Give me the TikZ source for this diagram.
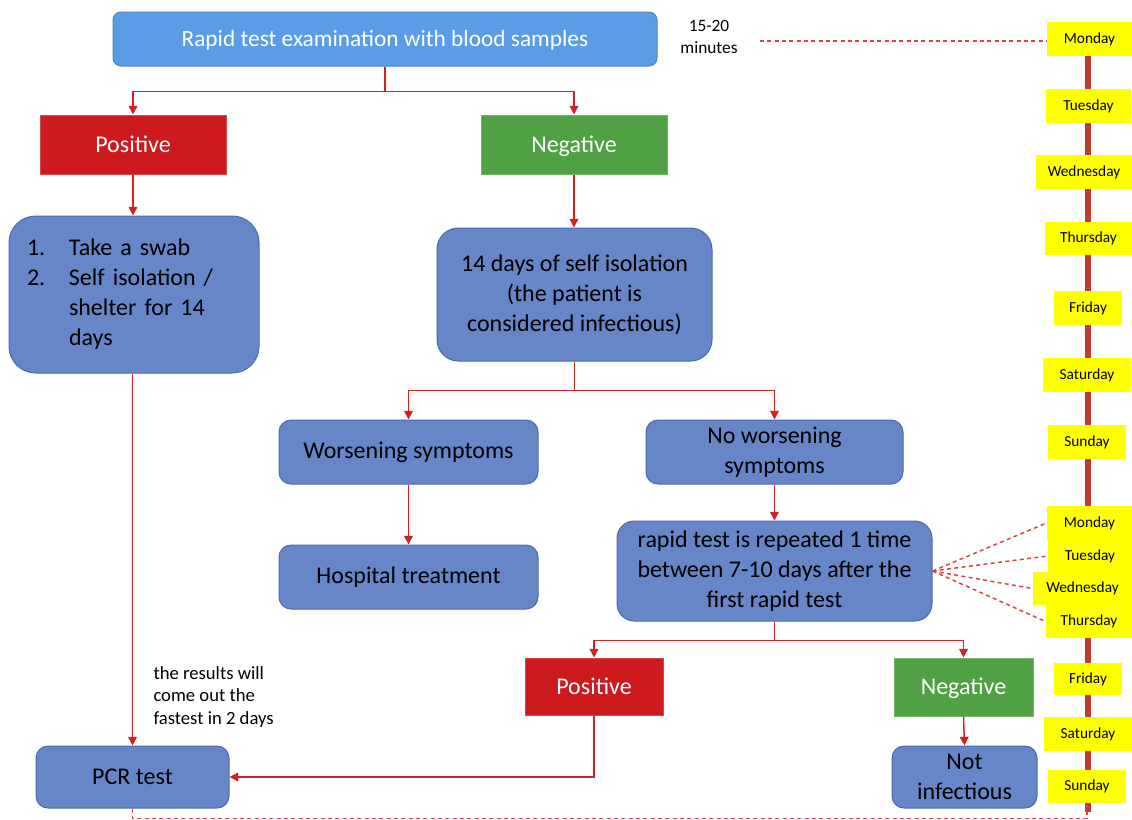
\documentclass[tikz,border=0pt]{standalone}
\usepackage{fontspec}
\setmainfont{Carlito}
\usetikzlibrary{arrows.meta}

\definecolor{topblue}{RGB}{91,156,230}
\definecolor{boxblue}{RGB}{102,134,200}
\definecolor{boxedge}{RGB}{74,106,176}
\definecolor{posred}{RGB}{204,26,31}
\definecolor{neggreen}{RGB}{80,160,68}
\definecolor{linkred}{RGB}{212,32,32}
\definecolor{dashred}{RGB}{222,64,64}
\definecolor{dayyellow}{RGB}{255,255,0}
\definecolor{timebrown}{RGB}{192,60,44}

\tikzset{every picture/.style={line width=0.75pt}}
\tikzset{
  sz/.style 2 args={minimum width=#1*0.75pt,minimum height=#2*0.75pt},
  flowbox/.style={draw=boxedge,fill=boxblue,inner sep=0pt,align=center,rounded corners=9pt,font=\fontsize{18}{22.5}\selectfont},
  resultbox/.style={fill=#1,draw=#1!80!white,inner sep=0pt,text=white,text height=11.5pt,text depth=0pt,font=\fontsize{18}{22.5}\selectfont},
  daybox/.style={fill=dayyellow,inner sep=0pt,font=\fontsize{11.5}{13}\selectfont},
  link/.style={draw=linkred,line width=1.1pt,-{Triangle[length=6.5pt,width=6.5pt]}},
  daydash/.style={draw=dashred,line width=1.1pt,dash pattern={on 3pt off 2.5pt}},
  timeline/.style={draw=timebrown,line width=3.8pt}
}

\begin{document}
\begin{tikzpicture}[x=0.75pt,y=0.75pt,yscale=-1,xscale=1]
    \useasboundingbox (0,0) rectangle (1132,819);

    %Shape: Timeline
    \coordinate (tltop) at (1088,50);
    \coordinate (tlbot) at (1088,812);
    \draw [timeline] (tltop) -- (tlbot);

    %Shape: Top box
    \node [fill=topblue,draw=topblue!85!black,rounded corners=6pt,inner sep=0pt,sz={544}{54},text=white,text height=11.5pt,text depth=0pt,font=\fontsize{17.5}{21}\selectfont] (rapid) at (385,39) {Rapid test examination with blood samples};
    % Text Node
    \node [align=center,font=\fontsize{13}{16.5}\selectfont] (mins) at (709,37) {15-20\\minutes};
    \coordinate (minsend) at (760,41);

    %Shape: Result boxes
    \node [resultbox=posred,sz={186}{59}] (pos1) at (133,144.5) {Positive};
    \node [resultbox=neggreen,sz={186}{59}] (neg1) at (574,144.5) {Negative};
    \node [resultbox=posred,sz={138}{57}] (pos2) at (594,686.5) {Positive};
    \node [resultbox=neggreen,sz={139}{58}] (neg2) at (963.5,687) {Negative};

    %Shape: Flow boxes
    \node [flowbox,rounded corners=20pt,sz={250}{157},text width=160.5pt,align=left] (list) at (134,294.5) {%
      \begin{tabular}{@{}p{31.5pt}@{}l@{}}
        1. & Take a swab\\
        2. & Self isolation /\\
           & shelter for 14\\
           & days
      \end{tabular}};
    \node [flowbox,rounded corners=16pt,sz={275}{133}] (iso) at (574.5,294.5) {14 days of self isolation\\(the patient is\\considered infectious)};
    \node [flowbox,sz={259}{64}] (worse) at (408.5,452) {Worsening symptoms};
    \node [flowbox,sz={257}{64}] (noworse) at (774.5,452) {No worsening\\symptoms};
    \node [flowbox,sz={259}{64}] (hosp) at (408.5,577) {Hospital treatment};
    \node [flowbox,rounded corners=13pt,sz={315}{100}] (repeat) at (774.5,571) {rapid test is repeated 1 time\\between 7-10 days after the\\first rapid test};
    \node [flowbox,sz={193}{62}] (pcr) at (132.5,777) {PCR test};
    \node [flowbox,sz={145}{62}] (notinf) at (964.5,777) {Not\\infectious};

    % Text Node
    \node [anchor=west,inner sep=0pt,align=left,font=\fontsize{14}{16.9}\selectfont] (note) at (153,697) {the results will\\come out the\\fastest in 2 days};

    %Shape: Days
    \node [daybox,sz={85}{34}] (mon1) at (1089.5,39) {Monday};
    \node [daybox,sz={85}{34}] (tue1) at (1088.5,106) {Tuesday};
    \node [daybox,sz={96}{34}] (wed1) at (1084,172) {Wednesday};
    \node [daybox,sz={87}{33}] (thu1) at (1088.5,238.5) {Thursday};
    \node [daybox,sz={68}{34}] (fri1) at (1088,308) {Friday};
    \node [daybox,sz={88}{34}] (sat1) at (1087,375) {Saturday};
    \node [daybox,sz={78}{34}] (sun1) at (1087,442) {Sunday};
    \node [daybox,sz={85}{34}] (mon2) at (1089.5,523) {Monday};
    \node [daybox,sz={84}{32}] (tue2) at (1090,556) {Tuesday};
    \node [daybox,sz={99}{33}] (wed2) at (1082.5,588.5) {Wednesday};
    \node [daybox,sz={86}{33}] (thu2) at (1089,621.5) {Thursday};
    \node [daybox,sz={68}{32}] (fri2) at (1088,679) {Friday};
    \node [daybox,sz={88}{34}] (sat2) at (1088,734) {Saturday};
    \node [daybox,sz={78}{33}] (sun2) at (1087,786.5) {Sunday};

    %Straight Lines
    \draw [link] (rapid.south) -- ++(0,25) -| (pos1.north);
    \draw [link] (rapid.south) -- ++(0,25) -| (neg1.north);
    \draw [link] (pos1.south) -- (pos1.south |- list.north);
    \draw [link] (neg1.south) -- (neg1.south |- iso.north);
    \draw [link] (pcr.north |- list.south) -- (pcr.north);
    \draw [link] (iso.south) -- ++(0,29) -| (worse.north);
    \draw [link] (iso.south) -- ++(0,29) -| (noworse.north);
    \draw [link] (worse.south) -- (hosp.north);
    \draw [link] (noworse.south) -- (repeat.north);
    \draw [link] (repeat.south) -- ++(0,19) -| (pos2.north);
    \draw [link] (repeat.south) -- ++(0,19) -| (neg2.north);
    \draw [link] (neg2.south) -- (notinf.north);
    \draw [link] (pos2.south) |- (pcr.east);

    %Dashed Lines
    \draw [daydash] (minsend) -- (minsend -| mon1.west);
    \draw [daydash] (repeat.east) -- (mon2.west);
    \draw [daydash] (repeat.east) -- (tue2.west);
    \draw [daydash] (repeat.east) -- (wed2.west);
    \draw [daydash] (repeat.east) -- (thu2.west);
    \draw [daydash] (pcr.south) -- ++(0,10) -| (sun2.south);

\end{tikzpicture}
\end{document}
